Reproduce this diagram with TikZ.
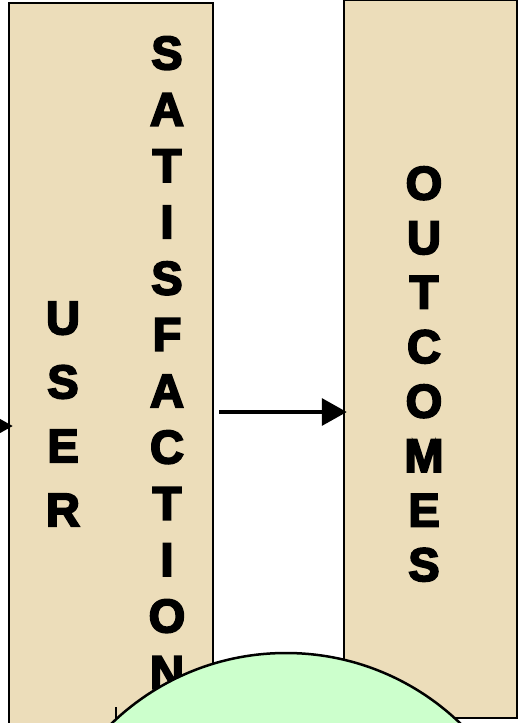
\documentclass[tikz,border=0pt]{standalone}
\usepackage{fontspec}
\setmainfont{Liberation Sans}
\newfontfamily\heavyfont{Liberation Sans Bold}[FakeBold=4]
\usepackage{xcolor}
\usetikzlibrary{shapes.geometric,arrows.meta,positioning}
\definecolor{parchment}{RGB}{236,221,186}
\definecolor{palegreen}{RGB}{204,255,204}

\begin{document}
\begin{tikzpicture}[
    x=1pt, y=-1pt,
    column/.style={rectangle, draw, line width=2.5pt, fill=parchment, inner sep=0pt},
    word/.style={inner sep=0pt, align=center, font={\heavyfont\fontsize{47}{#1}\selectfont}},
    arrow/.style={line width=3.5pt, -{Triangle[length=25pt,width=27pt]}}
]
\useasboundingbox (0,0) rectangle (518,723);
\clip (0,0) rectangle (518,723);

% Columns
\node[column, minimum width=204pt, minimum height=757pt] (userbox) at (111,381.5) {};
\node[column, minimum width=173pt, minimum height=718pt] (outbox) at (430.5,359) {};

% Vertical words
\node[word=64] (user) at (63,414) {U\\S\\E\\R};
\node[word=56.3] (satisfaction) at (167,362.5) {S\\A\\T\\I\\S\\F\\A\\C\\T\\I\\O\\N};
\node[word=54.5] (outcomes) at (424,374) {O\\U\\T\\C\\O\\M\\E\\S};

% Arrows
\coordinate (feed) at (-30,426);
\coordinate (midy) at (0,412);
\draw[arrow] (feed) -- ([xshift=5pt]userbox.west |- feed);
\draw[arrow] ([xshift=5pt]userbox.east |- midy) -- ([xshift=4pt]outbox.west |- midy);

% Stub below
\coordinate (stub) at (116,707);
\coordinate (stubend) at (116,740);
\draw[line width=1.5pt] (stub) -- (stubend);

% Circle
\node[circle, draw, line width=2.5pt, fill=palegreen, minimum size=502pt, inner sep=0pt] (hub) at (286,904) {};

\end{tikzpicture}
\end{document}
